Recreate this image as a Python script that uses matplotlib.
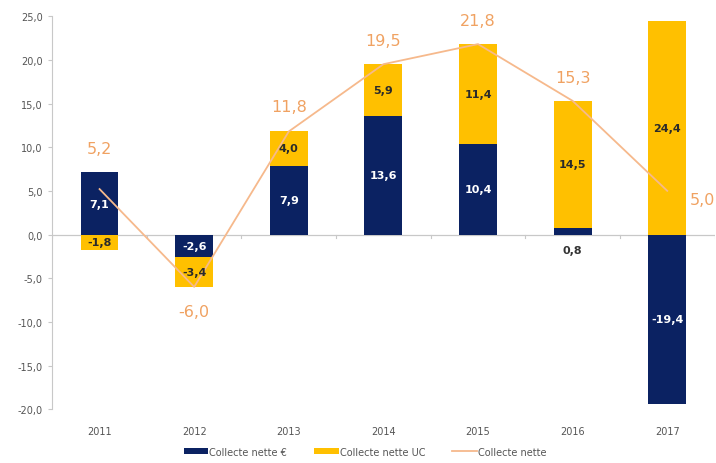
import numpy as np
import matplotlib.pyplot as plt

years = ['2011', '2012', '2013', '2014', '2015', '2016', '2017']
collecte_euro = [7.1, -2.6, 7.9, 13.6, 10.4, 0.8, -19.4]
collecte_uc = [-1.8, -3.4, 4.0, 5.9, 11.4, 14.5, 24.4]
collecte_nette = [5.2, -6.0, 11.8, 19.5, 21.8, 15.3, 5.0]

navy = '#0b2262'
gold = '#ffc000'
orange_line = '#f6b98c'
orange_txt = '#f0a262'

def fr(v):
    return ('%.1f' % v).replace('.', ',')

fig = plt.figure(figsize=(7.16, 4.64), dpi=100)
ax = fig.add_axes([0.073, 0.116, 0.925, 0.847])

x = np.arange(len(years))
w = 0.4
eur = np.array(collecte_euro)
uc = np.array(collecte_uc)

# € bars start at zero, UC bars stack on the same side as the € bar when signs agree
uc_bottom = np.where(np.sign(uc) == np.sign(eur), eur, 0.0)
b1 = ax.bar(x, eur, w, color=navy, label='Collecte nette €', zorder=2)
b2 = ax.bar(x, uc, w, bottom=uc_bottom, color=gold, label='Collecte nette UC', zorder=2)
l1, = ax.plot(x, collecte_nette, color=orange_line, lw=1.3, label='Collecte nette', zorder=3)

for i in range(len(years)):
    if abs(eur[i]) < 2:
        ax.text(x[i], -1.8, fr(eur[i]), ha='center', va='center', fontsize=8,
                fontweight='bold', color='#333333', zorder=4)
    else:
        ax.text(x[i], eur[i] / 2, fr(eur[i]), ha='center', va='center', fontsize=8,
                fontweight='bold', color='white', zorder=4)
    ax.text(x[i], uc_bottom[i] + uc[i] / 2, fr(uc[i]), ha='center', va='center',
            fontsize=8, fontweight='bold', color='#2a2a2a', zorder=4)

for i, v in enumerate(collecte_nette):
    if i == 1:
        ax.text(x[i], v - 2.8, fr(v), ha='center', va='center', fontsize=11.5, color=orange_txt)
    elif i == 6:
        ax.text(x[i] + 0.37, v - 1.0, fr(v), ha='center', va='center', fontsize=11.5, color=orange_txt)
    else:
        top = max(v, eur[i], uc_bottom[i] + uc[i])
        ax.text(x[i], top + 2.7, fr(v), ha='center', va='center', fontsize=11.5, color=orange_txt)

ax.set_xlim(-0.5, 6.5)
ax.set_ylim(-20, 25)
ax.set_yticks(np.arange(-20, 26, 5))
ax.set_yticklabels([fr(t) for t in np.arange(-20, 26, 5)], fontsize=7, color='#555555')
ax.set_xticks([])
for i, y in enumerate(years):
    ax.text(x[i], -22.5, y, ha='center', va='center', fontsize=7, color='#555555')

ax.axhline(0, color='#c8c8c8', lw=0.9, zorder=1)
for b in np.arange(-0.5, 7, 1):
    ax.plot([b, b], [0, -0.4], color='#c8c8c8', lw=0.8, zorder=1)
for s in ['top', 'right', 'bottom']:
    ax.spines[s].set_visible(False)
ax.spines['left'].set_color('#c8c8c8')
ax.tick_params(axis='y', length=3, color='#c8c8c8', pad=4)

leg = fig.legend(handles=[b1, b2, l1], loc='lower center', bbox_to_anchor=(0.51, -0.005),
                 ncol=3, frameon=False, fontsize=7, handlelength=2.5, handleheight=0.5,
                 columnspacing=2.8, handletextpad=0.1)
for t in leg.get_texts():
    t.set_color('#555555')

fig.savefig('out.png', dpi=100)
